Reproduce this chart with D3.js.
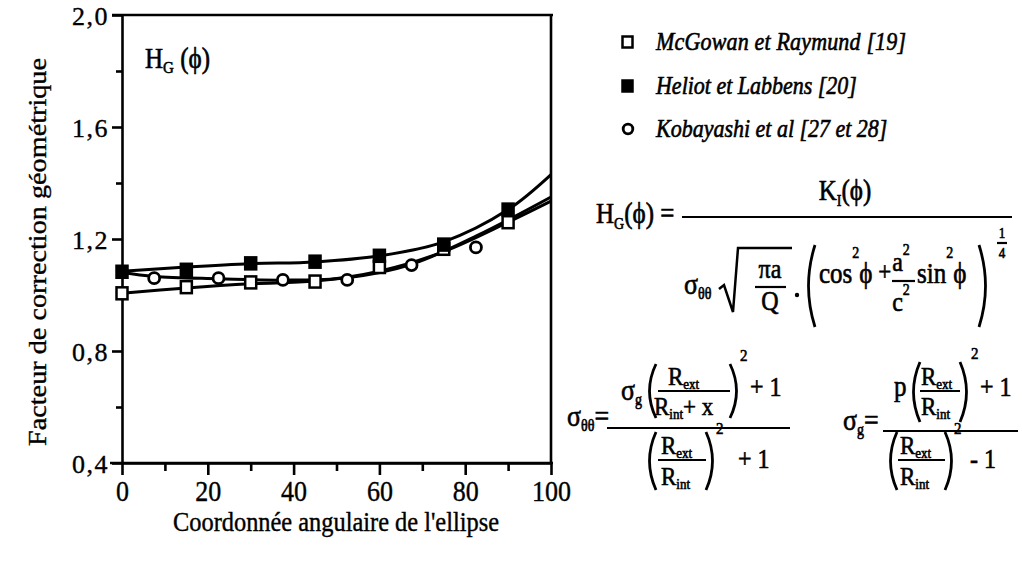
<!DOCTYPE html>
<html>
<head>
<meta charset="utf-8">
<script src="https://cdn.jsdelivr.net/npm/d3@7"></script>
<style>
  body { margin: 0; background: #fff; }
  svg text { font-family: "Liberation Serif", "Times New Roman", serif; fill: #000; stroke: #000; stroke-width: 0.35px; }
  svg text.fm { stroke-width: 0.55px; }
</style>
</head>
<body>
<script>
// data
var seriesNames = ["McGowan et Raymund [19]", "Heliot et Labbens [20]", "Kobayashi et al [27 et 28]"];

var mcgX = [0, 15, 30, 45, 60, 75, 90];
var mcgY = [1.006, 1.028, 1.045, 1.048, 1.10, 1.165, 1.26];
var helX = [0, 15, 30, 45, 60, 75, 90];
var helY = [1.083, 1.09, 1.113, 1.119, 1.14, 1.18, 1.305];
var kobX = [7.5, 22.5, 37.5, 52.5, 67.5, 82.5];
var kobY = [1.06, 1.06, 1.054, 1.054, 1.107, 1.17];

// fitted curves drawn through the points
var fitHelX = [0, 15, 30, 45, 60, 75, 90, 100];
var fitHelY = [1.085, 1.10, 1.112, 1.118, 1.14, 1.19, 1.305, 1.43];
var fitKobX = [0, 7.5, 22.5, 37.5, 52.5, 67.5, 82.5, 100];
var fitKobY = [1.08, 1.066, 1.058, 1.053, 1.062, 1.11, 1.21, 1.35];
var fitMcgX = [0, 15, 30, 45, 60, 75, 90, 100];
var fitMcgY = [1.006, 1.025, 1.04, 1.05, 1.085, 1.155, 1.26, 1.335];

var xMajor = [0, 20, 40, 60, 80, 100];
var xMinor = [10, 30, 50, 70, 90];
var yMajor = [0.4, 0.8, 1.2, 1.6, 2.0];
var yMinor = [0.6, 1.0, 1.4, 1.8];

var zip = function(xs, ys) { return xs.map(function(d, i) { return [d, ys[i]]; }); };
var SY = 1.15; // the scan is a bit taller than wide

var svg = d3.select("body").append("svg").attr("width", 1022).attr("height", 569);

var x = d3.scaleLinear().domain([0, 100]).range([122, 551]);
var y = d3.scaleLinear().domain([0.4, 2.0]).range([463, 15]);

// axes
var fmt = function(d) { return d3.format(".1f")(d).replace(".", ","); };

var gx = svg.append("g").attr("transform", "translate(0,463)")
  .call(d3.axisBottom(x).tickValues(xMajor).tickSize(12).tickSizeOuter(0).tickPadding(3));
svg.append("g").attr("transform", "translate(0,463)")
  .call(d3.axisBottom(x).tickValues(xMinor).tickSize(8).tickFormat("")).select(".domain").remove();
var gy = svg.append("g").attr("transform", "translate(122,0)")
  .call(d3.axisLeft(y).tickValues(yMajor).tickSize(10).tickSizeOuter(0).tickPadding(3).tickFormat(fmt));
svg.append("g").attr("transform", "translate(122,0)")
  .call(d3.axisLeft(y).tickValues(yMinor).tickSize(6).tickFormat("")).select(".domain").remove();

svg.selectAll(".tick line, .domain").attr("stroke", "#000").attr("stroke-width", 2.6);
gx.selectAll(".tick text").style("font-size", "26px").attr("font-family", null)
  .attr("transform", "scale(1," + SY + ")");
gy.selectAll(".tick text").style("font-size", "26px").attr("font-family", null)
  .style("letter-spacing", "1.5px").attr("dy", "0.36em");

// frame
svg.append("line").attr("x1", 110).attr("x2", 553).attr("y1", 463).attr("y2", 463)
  .attr("stroke", "#000").attr("stroke-width", 2.6);
svg.append("line").attr("x1", 112).attr("x2", 553).attr("y1", 15).attr("y2", 15)
  .attr("stroke", "#000").attr("stroke-width", 2.6);
svg.append("line").attr("x1", x(100)).attr("x2", x(100)).attr("y1", 15).attr("y2", 463)
  .attr("stroke", "#000").attr("stroke-width", 2.6);

// axis titles
svg.append("text").attr("transform", "translate(46,252) rotate(-90)")
  .attr("text-anchor", "middle").style("font-size", "25px")
  .attr("textLength", 388).attr("lengthAdjust", "spacingAndGlyphs")
  .text("Facteur de correction géométrique");
svg.append("text").attr("transform", "translate(336,531) scale(1," + SY + ")").attr("text-anchor", "middle")
  .style("font-size", "24px").attr("textLength", 326).attr("lengthAdjust", "spacingAndGlyphs")
  .text("Coordonnée angulaire de l'ellipse");

// curves
var line = d3.line().x(function(d) { return x(d[0]); }).y(function(d) { return y(d[1]); })
  .curve(d3.curveCatmullRom.alpha(0.5));
[zip(fitHelX, fitHelY), zip(fitKobX, fitKobY), zip(fitMcgX, fitMcgY)].forEach(function(pts) {
  svg.append("path").attr("d", line(pts)).attr("fill", "none")
    .attr("stroke", "#000").attr("stroke-width", 3);
});

// markers
function squares(data, filled) {
  svg.selectAll(null).data(data).enter().append("rect")
    .attr("x", function(d) { return x(d[0]) - 5.5; })
    .attr("y", function(d) { return y(d[1]) - 6; })
    .attr("width", 11).attr("height", 12)
    .attr("fill", filled ? "#000" : "#fff")
    .attr("stroke", "#000").attr("stroke-width", 2.5);
}
squares(zip(mcgX, mcgY), false);
squares(zip(helX, helY), true);
svg.selectAll(null).data(zip(kobX, kobY)).enter().append("circle")
  .attr("cx", function(d) { return x(d[0]); })
  .attr("cy", function(d) { return y(d[1]); })
  .attr("r", 5.5).attr("fill", "#fff").attr("stroke", "#000").attr("stroke-width", 2.8);

// text helpers (placed through a transform so they can be stretched)
function place(sel, px, py, sy) {
  return sel.attr("transform", "translate(" + px + "," + py + ") scale(1," + (sy || SY) + ")");
}

// formulas and labels: a run of pieces [text, size, shift]
var f = svg.append("g");
function run(px, py, pieces, anchor, sy) {
  var e = place(f.append("text"), px, py, sy).attr("class", "fm")
    .attr("text-anchor", anchor || "start");
  var cur = 0;
  pieces.forEach(function(p) {
    e.append("tspan").attr("dy", (p[2] || 0) - cur).style("font-size", p[1] + "px").text(p[0]);
    cur = p[2] || 0;
  });
  return e;
}
function bar(x1, x2, yy) {
  f.append("line").attr("x1", x1).attr("x2", x2).attr("y1", yy).attr("y2", yy)
    .attr("stroke", "#000").attr("stroke-width", 2.2);
}
function paren(px, y1, y2, dir) {
  f.append("path").attr("d", "M" + px + "," + y1 + " Q" + (px - dir * 13) + "," + ((y1 + y2) / 2) + " " + px + "," + y2)
    .attr("fill", "none").attr("stroke", "#000").attr("stroke-width", 2.8);
}

// H_G(phi) label in the plot
run(145, 68, [["H", 25], ["G", 15, 4], [" (ϕ)", 25]]);

// legend
var legY = [42, 86, 129];
seriesNames.forEach(function(name, i) {
  var cy = legY[i];
  if (i < 2) {
    svg.append("rect").attr("x", 622.5).attr("y", cy - 5.5).attr("width", 10).attr("height", 11)
      .attr("fill", i === 1 ? "#000" : "#fff").attr("stroke", "#000").attr("stroke-width", 2.5);
  } else {
    svg.append("circle").attr("cx", 628).attr("cy", cy).attr("r", 4.8)
      .attr("fill", "#fff").attr("stroke", "#000").attr("stroke-width", 2.8);
  }
  place(svg.append("text"), 656, cy + 8).attr("class", "fm").style("font-size", "22px")
    .style("font-style", "italic").attr("textLength", i === 0 ? 250 : null).text(name);
});

// H_G(phi) = K_I(phi) / (sigma sqrt(pi a / Q) . (cos^2 phi + a^2/c^2 sin^2 phi)^(1/4))
run(596, 223, [["H", 25], ["G", 14, 5], ["(ϕ) =", 25]]);
bar(682, 1012, 217);
run(845, 200, [["K", 25], ["I", 14, 5], ["(ϕ)", 25]], "middle");
run(684, 294, [["σ", 26], ["θθ", 14, 4]]);
f.append("path").attr("d", "M719,289 L724,285 L733,312 L738,248 L792,248")
  .attr("fill", "none").attr("stroke", "#000").attr("stroke-width", 2.5);
run(770, 278, [["πa", 24]], "middle");
bar(755, 786, 287);
run(770, 310, [["Q", 24]], "middle");
f.append("circle").attr("cx", 797).attr("cy", 295).attr("r", 2.2);
paren(815, 245, 327, 1);
run(819, 283, [["cos", 25], ["2", 14, -22], ["ϕ", 25], [" +", 23, -2]]);
run(901, 271, [["a", 24], ["2", 14, -14]], "middle");
bar(892, 915, 281);
run(901, 311, [["c", 24], ["2", 14, -14]], "middle");
run(917, 283, [["sin", 25], ["2", 14, -22], ["ϕ", 25]]);
paren(979, 245, 327, -1);
run(1002, 238, [["1", 13]], "middle");
bar(997, 1007, 243);
run(1002, 258, [["4", 13]], "middle");

// sigma_thetatheta
run(567, 426, [["σ", 26], ["θθ", 14, 4], ["=", 26]]);
bar(607, 790, 428);
run(621, 400, [["σ", 26], ["g", 14, 4]]);
paren(656, 364, 418, 1);
run(668, 385, [["R", 23], ["ext", 13, 4]], null, 1.05);
bar(658, 730, 391);
run(654, 415, [["R", 23], ["int", 13, 4], ["+ x", 23]], null, 1.05);
paren(730, 364, 418, -1);
run(740, 361, [["2", 15]]);
run(750, 396, [["+ 1", 24]]);
paren(656, 432, 490, 1);
run(661, 454, [["R", 23], ["ext", 13, 4]], null, 1.05);
bar(658, 706, 460);
run(661, 485, [["R", 23], ["int", 13, 4]], null, 1.05);
paren(706, 432, 490, -1);
run(716, 434, [["2", 15]]);
run(738, 468, [["+ 1", 24]]);

// sigma_g
run(843, 430, [["σ", 26], ["g", 14, 4], ["=", 26]]);
bar(883, 1018, 431);
run(894, 396, [["p", 25]]);
paren(920, 362, 422, 1);
run(921, 385, [["R", 23], ["ext", 13, 4]], null, 1.05);
bar(920, 960, 391);
run(921, 415, [["R", 23], ["int", 13, 4]], null, 1.05);
paren(960, 362, 422, -1);
run(971, 359, [["2", 15]]);
run(980, 396, [["+ 1", 24]]);
paren(897, 432, 490, 1);
run(900, 454, [["R", 23], ["ext", 13, 4]], null, 1.05);
bar(898, 945, 460);
run(900, 485, [["R", 23], ["int", 13, 4]], null, 1.05);
paren(945, 432, 490, -1);
run(954, 434, [["2", 15]]);
run(970, 468, [["- 1", 24]]);
</script>
</body>
</html>
